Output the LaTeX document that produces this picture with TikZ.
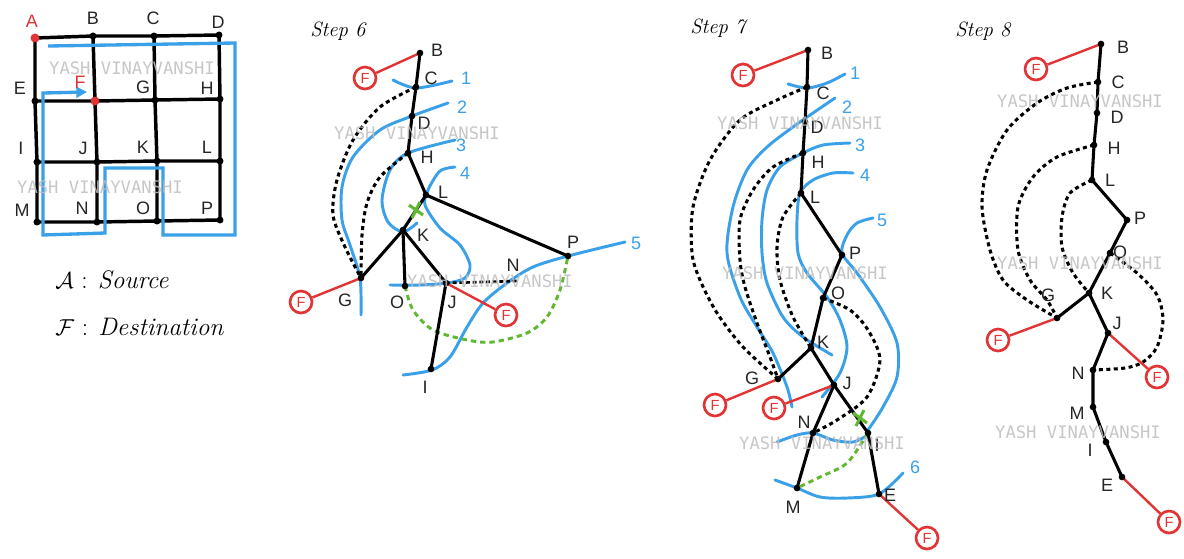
\documentclass[tikz,border=0pt]{standalone}
\usepackage{fontspec}
\newfontfamily\lblfont{Liberation Sans}
\newfontfamily\wmfont{DejaVu Sans Mono}
\usetikzlibrary{arrows.meta}
\definecolor{myblue}{RGB}{58,160,232}
\definecolor{myred}{RGB}{226,52,52}
\definecolor{mygreen}{RGB}{96,184,50}
\definecolor{wmgray}{RGB}{190,190,190}
\begin{document}
\begin{tikzpicture}[x=0.75pt,y=-0.75pt,
 dot/.style={circle,fill=black,inner sep=0pt,minimum size=5pt},
 reddot/.style={circle,fill=myred,inner sep=0pt,minimum size=6.5pt},
 lbl/.style={font=\lblfont\fontsize{13.5}{15}\selectfont,text=black!85,inner sep=0pt},
 num/.style={lbl,text=myblue},
 fnode/.style={circle,draw=myred,line width=2pt,fill=white,minimum size=16.5pt,inner sep=0pt,text=myred,font=\lblfont\fontsize{11}{12}\selectfont},
 edge/.style={line width=2.3pt,black},
 redge/.style={line width=1.8pt,myred},
 wave/.style={line width=2.2pt,myblue,line cap=round},
 dots/.style={line width=2.3pt,dash pattern=on 3pt off 2.6pt},
 gdash/.style={line width=2.2pt,mygreen,dash pattern=on 4pt off 3pt},
 wm/.style={font=\wmfont\fontsize{12.9}{14}\selectfont,text=wmgray,text opacity=0.85,inner sep=0pt},
 titlestyle/.style={font=\itshape\fontsize{15.5}{17}\selectfont,inner sep=0pt,anchor=west},
 gline/.style={line width=2.6pt,black},
 bluepath/.style={line width=2.5pt,myblue},
]
\useasboundingbox[fill=white] (0,0) rectangle (1184,558);

% ================= GRID =================
\node[reddot] (gA) at (35,38) {};
\node[dot] (gB) at (93,36) {};
\node[dot] (gC) at (154,36) {};
\node[dot] (gD) at (219,35) {};
\node[dot] (gE) at (35,101) {};
\node[reddot] (gF) at (95,101) {};
\node[dot] (gG) at (155,100) {};
\node[dot] (gH) at (220,99) {};
\node[dot] (gI) at (37,162) {};
\node[dot] (gJ) at (97,162) {};
\node[dot] (gK) at (157,161) {};
\node[dot] (gL) at (220,161) {};
\node[dot] (gM) at (37,222) {};
\node[dot] (gN) at (97,222) {};
\node[dot] (gO) at (157,221) {};
\node[dot] (gP) at (220,220) {};
\draw[gline] (gA.center)--(gB.center)--(gC.center)--(gD.center);
\draw[gline] (gE.center)--(gF.center)--(gG.center)--(gH.center);
\draw[gline] (gI.center)--(gJ.center)--(gK.center)--(gL.center);
\draw[gline] (gM.center)--(gN.center)--(gO.center)--(gP.center);
\draw[gline] (gA.center)--(gE.center)--(gI.center)--(gM.center);
\draw[gline] (gB.center)--(gF.center)--(gJ.center)--(gN.center);
\draw[gline] (gC.center)--(gG.center)--(gK.center)--(gO.center);
\draw[gline] (gD.center)--(gH.center)--(gL.center)--(gP.center);
\foreach \n in {B,C,D,E,G,H,I,J,K,L,M,N,O,P} \node[dot] at (g\n) {};
\node[reddot] at (gA) {};
\node[reddot] at (gF) {};
\coordinate (pstart) at (48,46);
\coordinate (pend) at (87,92);
\draw[bluepath,-{Triangle[length=8pt,width=8pt]}] (pstart)--(235,43)--(235,235)--(163,235)--(163,168)--(105,168)--(105,233)--(43,235)--(43,93)--(pend);

\node[lbl,text=myred] (lA) at (32,21) {A};
\node[lbl] (lB) at (93,18) {B};
\node[lbl] (lC) at (153,18) {C};
\node[lbl] (lD) at (218,22) {D};
\node[lbl] (lE) at (20,88) {E};
\node[lbl,text=myred] (lF) at (80,82) {F};
\node[lbl] (lG) at (143,87) {G};
\node[lbl] (lH) at (207,88) {H};
\node[lbl] (lI) at (21,148) {I};
\node[lbl] (lJ) at (83,148) {J};
\node[lbl] (lK) at (143,147) {K};
\node[lbl] (lL) at (207,147) {L};
\node[lbl] (lM) at (22,210) {M};
\node[lbl] (lN) at (82,208) {N};
\node[lbl] (lO) at (143,208) {O};
\node[lbl] (lP) at (207,208) {P};

\node[anchor=west,inner sep=0pt,font=\fontsize{19}{21}\selectfont] (leg1) at (55,280) {$\mathcal{A}$ : \textit{Source}};
\node[anchor=west,inner sep=0pt,font=\fontsize{19}{21}\selectfont] (leg2) at (55,327) {$\mathcal{F}$ : \textit{Destination}};

% ================= STEP 6 =================
\node[titlestyle] (t6) at (310,31) {Step 6};
\coordinate (s6B) at (420,53);
\coordinate (s6C) at (416,87);
\coordinate (s6D) at (412,116);
\coordinate (s6H) at (408,153);
\coordinate (s6L) at (426,195);
\coordinate (s6K) at (403,230);
\coordinate (s6G) at (361,278);
\coordinate (s6O) at (405,286);
\coordinate (s6J) at (446,283);
\coordinate (s6N) at (517,281);
\coordinate (s6P) at (568,256);
\coordinate (s6I) at (431,369);

\draw[wave] plot[smooth] coordinates {(393,80) (416,88) (452,81)};
\draw[wave] plot[smooth] coordinates {(448,103) (412,116) (380,130) (353,157) (342,187) (342,220) (350,245) (360,278) (361,315)};
\draw[wave] plot[smooth] coordinates {(455,140) (408,153) (390,170) (382,200) (388,222) (403,232) (417,223)};
\draw[wave] plot[smooth] coordinates {(455,167) (440,171) (428,190) (425,205) (440,228) (460,245) (470,265) (465,278) (447,283) (420,285) (390,285)};
\draw[wave] plot[smooth] coordinates {(625,242) (568,256) (533,267) (507,283) (483,303) (467,327) (450,357) (432,370) (403,375)};

\draw[dots] plot[smooth] coordinates {(s6C) (380,107) (353,140) (337,180) (333,215) (345,247) (s6G)};
\draw[dots] plot[smooth] coordinates {(s6H) (380,177) (367,203) (362,235) (s6G)};
\draw[gdash] plot[smooth] coordinates {(s6O) (413,310) (433,330) (467,340) (493,342) (527,333) (547,317) (560,290) (s6P)};

\draw[edge] (s6B)--(s6C)--(s6D)--(s6H)--(s6L)--(s6K)--(s6G);
\draw[edge] (s6L)--(s6P);
\draw[edge] (s6K)--(s6O);
\draw[edge] (s6K)--(s6J)--(s6I);
\draw[line width=2pt,dash pattern=on 3pt off 2pt] (s6J)--(s6N);

\node[fnode] (s6F1) at (365,78) {F};
\node[fnode] (s6F2) at (301,302) {F};
\node[fnode] (s6F3) at (506,315) {F};
\draw[redge] (s6F1)--(s6B);
\draw[redge] (s6F2)--(s6G);
\draw[redge] (s6F3)--(s6J);

\foreach \n in {B,C,D,H,L,K,G,O,J,P,I} \node[dot] at (s6\n) {};
\draw[mygreen,line width=2.3pt,shift={(416,210)}] (-7,-5)--(7,5) (-4,8)--(4,-8);

\node[lbl] (s6lB) at (437,50) {B};
\node[lbl] (s6lC) at (431,78) {C};
\node[lbl] (s6lD) at (424,123) {D};
\node[lbl] (s6lH) at (427,157) {H};
\node[lbl] (s6lL) at (443,192) {L};
\node[lbl] (s6lK) at (423,235) {K};
\node[lbl] (s6lG) at (345,300) {G};
\node[lbl] (s6lO) at (397,302) {O};
\node[lbl] (s6lJ) at (452,302) {J};
\node[lbl] (s6lN) at (513,265) {N};
\node[lbl] (s6lP) at (573,242) {P};
\node[lbl] (s6lI) at (425,387) {I};
\node[num] (s6n1) at (466,78) {1};
\node[num] (s6n2) at (462,107) {2};
\node[num] (s6n3) at (461,145) {3};
\node[num] (s6n4) at (465,173) {4};
\node[num] (s6n5) at (636,243) {5};

% ================= STEP 7 =================
\node[titlestyle] (t7) at (690,28) {Step 7};
\coordinate (s7B) at (808,50);
\coordinate (s7C) at (807,87);
\coordinate (s7D) at (805,122);
\coordinate (s7H) at (803,153);
\coordinate (s7L) at (801,193);
\coordinate (s7P) at (842,255);
\coordinate (s7O) at (823,298);
\coordinate (s7K) at (811,348);
\coordinate (s7G) at (778,379);
\coordinate (s7J) at (834,385);
\coordinate (s7N) at (813,433);
\coordinate (s7I) at (868,433);
\coordinate (s7M) at (797,488);
\coordinate (s7E) at (879,494);

\draw[wave] plot[smooth] coordinates {(788,84) (807,88) (827,83) (845,74)};
\draw[wave] plot[smooth] coordinates {(835,98) (813,113) (793,127) (767,147) (747,170) (733,207) (727,253) (740,297) (757,327) (773,353) (787,387) (792,407)};
\draw[wave] plot[smooth] coordinates {(850,143) (823,145) (803,153) (780,167) (767,190) (762,220) (762,253) (767,283) (783,317) (803,337) (832,355)};
\draw[wave] plot[smooth] coordinates {(853,173) (833,173) (813,180) (800,193) (797,220) (798,253) (807,273) (827,297) (840,320) (847,347) (840,373) (822,397)};
\draw[wave] plot[smooth] coordinates {(873,218) (857,223) (847,235) (842,253) (857,273) (880,307) (897,343) (897,377) (883,407) (868,430)};
\draw[wave] plot[smooth] coordinates {(777,442) (797,435) (813,433) (833,440) (853,442) (868,435)};
\draw[wave] plot[smooth] coordinates {(775,480) (797,488) (820,497) (847,498) (879,494) (903,473)};

\draw[dots] plot[smooth] coordinates {(s7C) (777,100) (740,120) (710,160) (693,207) (692,253) (700,280) (717,313) (743,347) (s7G)};
\draw[dots] plot[smooth] coordinates {(s7H) (773,167) (753,190) (740,220) (740,260) (745,287) (757,323) (770,357) (s7G)};
\draw[dots] plot[smooth] coordinates {(s7L) (783,217) (777,247) (780,280) (793,317) (s7K)};
\draw[dots] plot[smooth] coordinates {(s7O) (850,310) (868,330) (880,360) (867,397) (837,420) (s7N)};
\draw[gdash] plot[smooth] coordinates {(s7I) (847,463) (820,477) (s7M)};

\draw[edge] (s7B)--(s7C)--(s7D)--(s7H)--(s7L)--(s7P)--(s7O)--(s7K)--(s7G);
\draw[edge] (s7K)--(s7J)--(s7N)--(s7M);
\draw[edge] (s7J)--(s7I)--(s7E);

\node[fnode] (s7F1) at (743,75) {F};
\node[fnode] (s7F2) at (715,405) {F};
\node[fnode] (s7F3) at (774,408) {F};
\node[fnode] (s7F4) at (927,538) {F};
\draw[redge] (s7F1)--(s7B);
\draw[redge] (s7F2)--(s7G);
\draw[redge] (s7F3)--(s7J);
\draw[redge] (s7F4)--(s7E);

\foreach \n in {B,C,D,H,L,P,O,K,G,J,N,I,M,E} \node[dot] at (s7\n) {};
\draw[mygreen,line width=2.3pt,shift={(860,418)}] (-7,-5)--(7,5) (-4,8)--(4,-8);

\node[lbl] (s7lB) at (827,53) {B};
\node[lbl] (s7lC) at (823,93) {C};
\node[lbl] (s7lD) at (817,127) {D};
\node[lbl] (s7lH) at (818,162) {H};
\node[lbl] (s7lL) at (815,197) {L};
\node[lbl] (s7lP) at (855,253) {P};
\node[lbl] (s7lO) at (838,293) {O};
\node[lbl] (s7lK) at (823,342) {K};
\node[lbl] (s7lG) at (752,378) {G};
\node[lbl] (s7lJ) at (847,383) {J};
\node[lbl] (s7lN) at (804,422) {N};
\node[lbl] (s7lI) at (877,445) {I};
\node[lbl] (s7lM) at (793,507) {M};
\node[lbl] (s7lE) at (890,495) {E};
\node[num] (s7n1) at (855,73) {1};
\node[num] (s7n2) at (847,107) {2};
\node[num] (s7n3) at (860,145) {3};
\node[num] (s7n4) at (865,175) {4};
\node[num] (s7n5) at (882,220) {5};
\node[num] (s7n6) at (915,467) {6};

% ================= STEP 8 =================
\node[titlestyle] (t8) at (955,31) {Step 8};
\coordinate (s8B) at (1101,44);
\coordinate (s8C) at (1098,82);
\coordinate (s8D) at (1097,113);
\coordinate (s8H) at (1094,145);
\coordinate (s8L) at (1092,180);
\coordinate (s8P) at (1127,220);
\coordinate (s8O) at (1110,253);
\coordinate (s8K) at (1089,293);
\coordinate (s8G) at (1057,318);
\coordinate (s8J) at (1108,333);
\coordinate (s8N) at (1093,370);
\coordinate (s8M) at (1093,407);
\coordinate (s8I) at (1106,442);
\coordinate (s8E) at (1122,477);

\draw[dots] plot[smooth] coordinates {(s8C) (1067,88) (1037,103) (1007,130) (987,170) (982,207) (990,250) (1003,280) (1027,300) (s8G)};
\draw[dots] plot[smooth] coordinates {(s8H) (1057,157) (1033,177) (1018,207) (1018,250) (1030,280) (1047,300) (s8G)};
\draw[dots] plot[smooth] coordinates {(s8L) (1070,193) (1062,217) (1062,247) (1073,273) (s8K)};
\draw[dots] plot[smooth] coordinates {(s8O) (1137,273) (1157,295) (1163,320) (1157,347) (1143,362) (1125,368) (s8N)};

\draw[edge] (s8B)--(s8C)--(s8D)--(s8H)--(s8L)--(s8P)--(s8O)--(s8K)--(s8G);
\draw[edge] (s8K)--(s8J)--(s8N)--(s8M)--(s8I)--(s8E);

\node[fnode] (s8F1) at (1036,69) {F};
\node[fnode] (s8F2) at (998,340) {F};
\node[fnode] (s8F3) at (1157,377) {F};
\node[fnode] (s8F4) at (1169,522) {F};
\draw[redge] (s8F1)--(s8B);
\draw[redge] (s8F2)--(s8G);
\draw[redge] (s8F3)--(s8J);
\draw[redge] (s8F4)--(s8E);

\foreach \n in {B,C,D,H,L,P,O,K,G,J,N,M,I,E} \node[dot] at (s8\n) {};

\node[lbl] (s8lB) at (1123,47) {B};
\node[lbl] (s8lC) at (1118,82) {C};
\node[lbl] (s8lD) at (1117,117) {D};
\node[lbl] (s8lH) at (1114,148) {H};
\node[lbl] (s8lL) at (1110,180) {L};
\node[lbl] (s8lP) at (1140,218) {P};
\node[lbl] (s8lO) at (1120,252) {O};
\node[lbl] (s8lK) at (1107,293) {K};
\node[lbl] (s8lG) at (1048,295) {G};
\node[lbl] (s8lJ) at (1117,323) {J};
\node[lbl] (s8lN) at (1078,373) {N};
\node[lbl] (s8lM) at (1077,413) {M};
\node[lbl] (s8lI) at (1090,450) {I};
\node[lbl] (s8lE) at (1107,485) {E};

% ================= WATERMARKS =================
\node[wm] (wm1) at (132,68) {YASH VINAYVANSHI};
\node[wm] (wm2) at (100,187) {YASH VINAYVANSHI};
\node[wm] (wm3) at (417,133) {YASH VINAYVANSHI};
\node[wm] (wm4) at (490,281) {YASH VINAYVANSHI};
\node[wm] (wm5) at (800,123) {YASH VINAYVANSHI};
\node[wm] (wm6) at (805,273) {YASH VINAYVANSHI};
\node[wm] (wm7) at (822,443) {YASH VINAYVANSHI};
\node[wm] (wm8) at (1080,101) {YASH VINAYVANSHI};
\node[wm] (wm9) at (1080,263) {YASH VINAYVANSHI};
\node[wm] (wm10) at (1078,432) {YASH VINAYVANSHI};
\end{tikzpicture}
\end{document}
